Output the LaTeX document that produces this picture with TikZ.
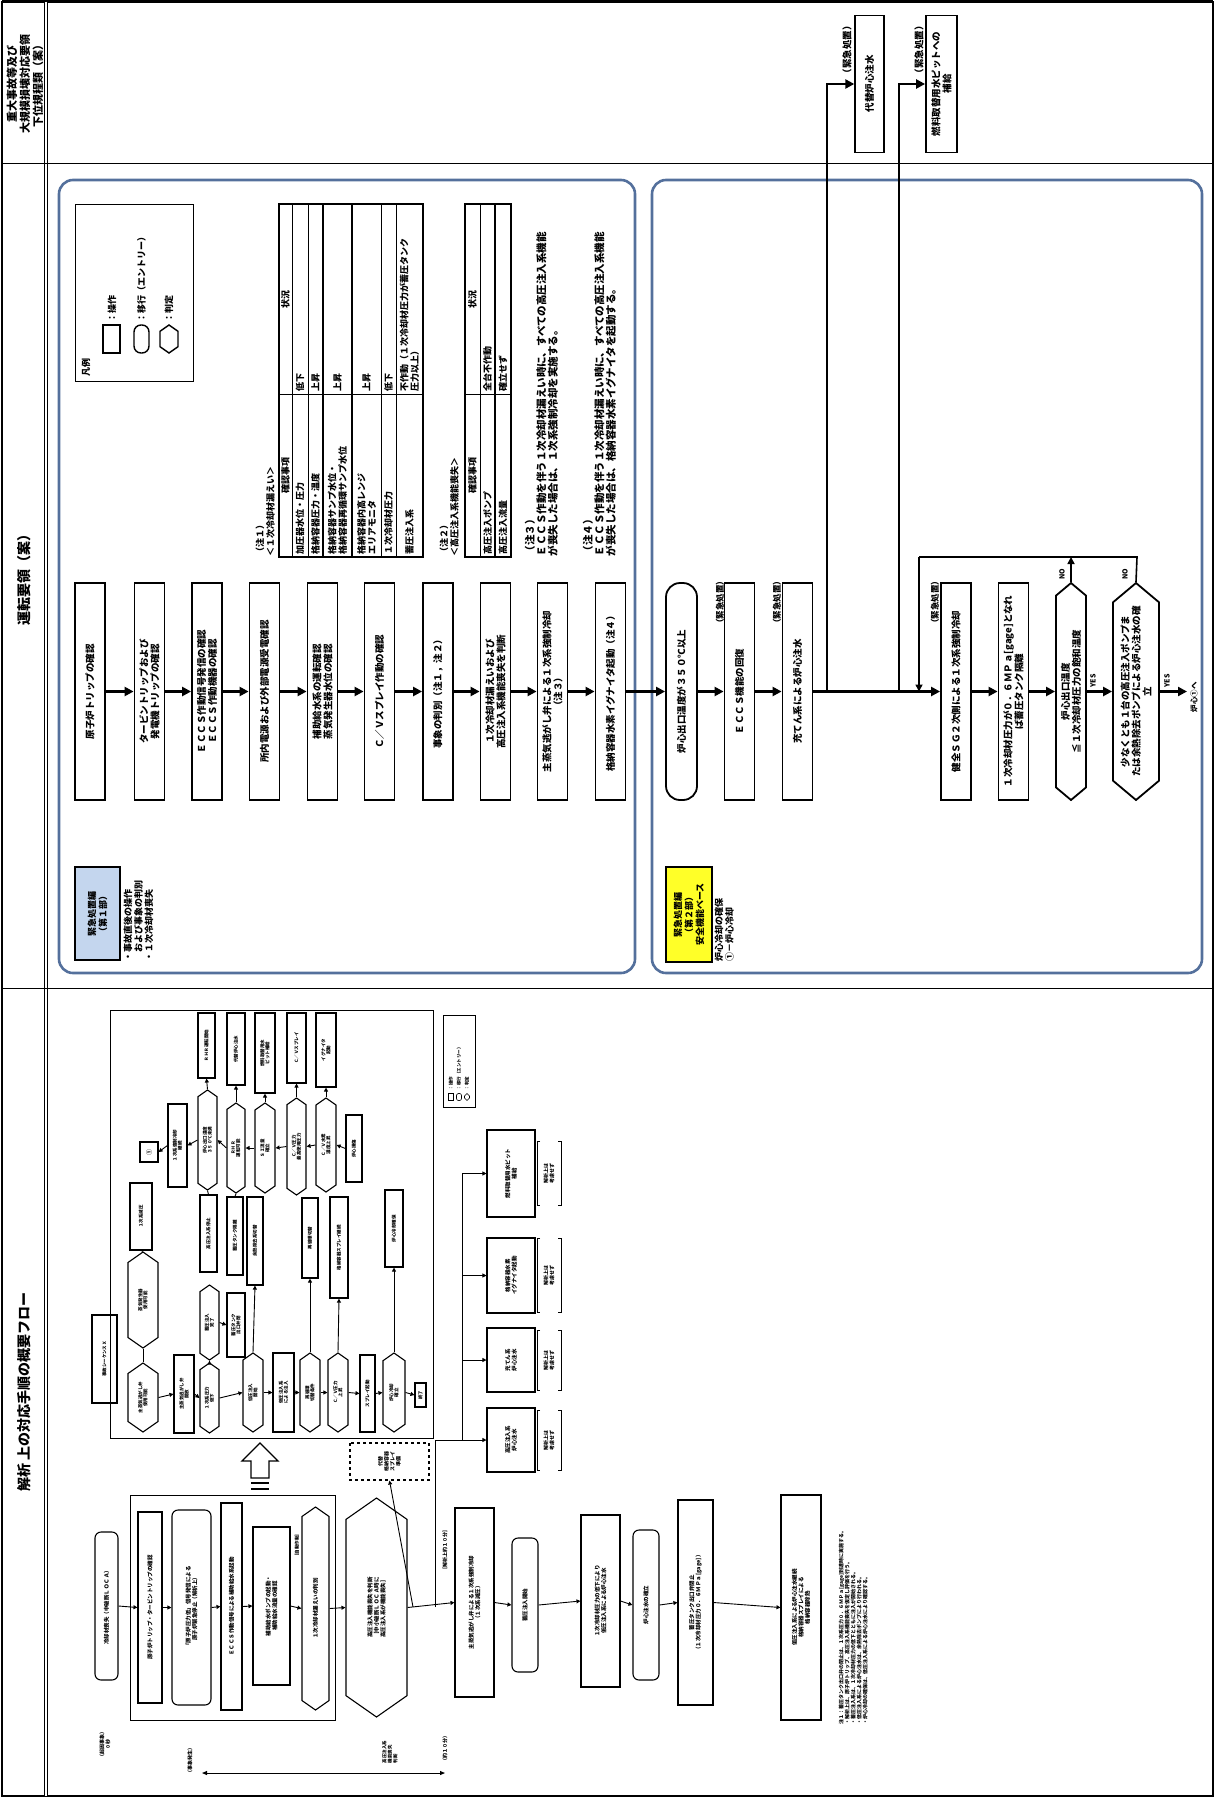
\documentclass[tikz,border=0pt]{standalone}
\usepackage{fontspec}
\setmainfont{Noto Sans CJK JP}
\usepackage{tikz}
\usetikzlibrary{arrows.meta,shapes.symbols}

\definecolor{frameblue}{RGB}{84,112,156}
\definecolor{partblue}{RGB}{196,214,238}
\definecolor{partyellow}{RGB}{255,255,40}

\begin{document}
\begin{tikzpicture}[x=1pt,y=-1pt,
    txt/.style={rotate=90,inner sep=0.5pt,align=left,font=\fontsize{9}{10.5}\selectfont\bfseries},
    op/.style={draw,line width=1.8pt,rotate=90,minimum width=217pt,minimum height=30pt,inner sep=1pt,align=center,font=\fontsize{9.5}{11}\selectfont\bfseries},
    entry/.style={op,rounded corners=14pt},
    judge/.style={op,signal,signal to=east and west,signal pointer angle=100},
    flow/.style={line width=2.4pt,-{Triangle[length=9pt,width=9pt]}},
    loopline/.style={line width=1.6pt},
    blueframe/.style={draw=frameblue,line width=2.6pt,rounded corners=14pt},
    sop/.style={draw,line width=1.1pt,rotate=90,inner sep=0.5pt,align=center,font=\fontsize{4.5}{5}\selectfont\bfseries},
    sentry/.style={sop,rounded corners=6pt},
    sjudge/.style={sop,signal,signal to=east and west,signal pointer angle=110},
    sflow/.style={line width=0.9pt,-{Triangle[length=4pt,width=4pt]}},
    sline/.style={line width=0.9pt},
  ]
  \useasboundingbox (0,0) rectangle (1215,1798);

  % frame and header column
  \draw[line width=1.6pt] (2,2) rectangle (1213,1796);
  \draw[line width=3pt] (2,2) -- (1213,2);
  \draw[double,double distance=1.6pt,line width=0.8pt] (46,2) -- (46,1796);
  \draw[line width=1pt] (2,164) -- (1213,164);
  \draw[line width=1pt] (2,988) -- (1213,988);
  \node[txt,align=center,font=\fontsize{11}{13}\selectfont\bfseries] (hdrA) at (25,84) {重大事故等及び\\大規模損壊対応要領\\下位規程類（案）};
  \node[txt,font=\fontsize{14}{16}\selectfont\bfseries] (hdrB) at (24,576) {運転要領（案）};
  \node[txt,font=\fontsize{14}{16}\selectfont\bfseries] (hdrC) at (24,1392) {解析 上の対応手順の概要フロー};

  % top column
  \node[op,minimum width=137pt,minimum height=29pt,line width=1.4pt] (altinj) at (869.5,84) {代替炉心注水};
  \node[op,minimum width=137pt,minimum height=31pt] (rwspfill) at (941.5,84) {燃料取替用水ピットへの\\補給};
  \node[txt,font=\fontsize{9.5}{11}\selectfont\bfseries] (altlbl) at (847,50) {（緊急処置）};
  \node[txt,font=\fontsize{9.5}{11}\selectfont\bfseries] (rwsplbl) at (919,50) {（緊急処置）};

  % first part
  \draw[blueframe] (59,180) rectangle (635,973);
  \draw[line width=0.8pt] (75,204) rectangle (193,381);
  \node[txt] (lgd) at (86,367) {凡例};
  \node[draw,line width=1.4pt,rotate=90,minimum width=28pt,minimum height=17pt,inner sep=0pt] (lgdop) at (111.5,339) {};
  \node[draw,line width=1.4pt,rotate=90,minimum width=28pt,minimum height=15pt,inner sep=0pt,rounded corners=7pt] (lgdentry) at (141.5,339) {};
  \node[draw,line width=1.4pt,rotate=90,minimum width=28pt,minimum height=18pt,inner sep=0pt,signal,signal to=east and west,signal pointer angle=110] (lgdjudge) at (169,339) {};
  \node[txt,anchor=west] (lgdopt) at (112,323) {：操作};
  \node[txt,anchor=west] (lgdentryt) at (141.5,323) {：移行（エントリー）};
  \node[txt,anchor=west] (lgdjudget) at (169,323) {：判定};

  % note 1 table
  \node[txt,anchor=north west] (n1ttl) at (255,557) {（注１）\\＜１次冷却材漏えい＞};
  \draw[line width=1.4pt] (279,204) rectangle (423,557);
  \foreach \r in {292,308,381,396} \draw[line width=0.8pt] (\r,204) -- (\r,557);
  \foreach \r in {323,352} \draw[line width=1.4pt] (\r,204) -- (\r,557);
  \draw[line width=0.8pt] (279,394) -- (423,394);
  \node[txt] (t1h1) at (285.5,475) {確認事項};
  \node[txt] (t1h2) at (285.5,299) {状況};
  \node[txt,anchor=west] (t1a1) at (300,555) {加圧器水位・圧力};
  \node[txt,anchor=west] (t1b1) at (300,392) {低下};
  \node[txt,anchor=west] (t1a2) at (315.5,555) {格納容器圧力・温度};
  \node[txt,anchor=west] (t1b2) at (315.5,392) {上昇};
  \node[txt,anchor=west] (t1a3) at (337.5,555) {格納容器サンプ水位・\\格納容器再循環サンプ水位};
  \node[txt,anchor=west] (t1b3) at (337.5,392) {上昇};
  \node[txt,anchor=west] (t1a4) at (366.5,555) {格納容器内高レンジ\\エリアモニタ};
  \node[txt,anchor=west] (t1b4) at (366.5,392) {上昇};
  \node[txt,anchor=west] (t1a5) at (388.5,555) {１次冷却材圧力};
  \node[txt,anchor=west] (t1b5) at (388.5,392) {低下};
  \node[txt,anchor=west] (t1a6) at (409.5,555) {蓄圧注入系};
  \node[txt,anchor=west] (t1b6) at (409.5,392) {不作動（１次冷却材圧力が蓄圧タンク\\圧力以上）};

  % note 2 table
  \node[txt,anchor=north west] (n2ttl) at (439,557) {（注２）\\＜高圧注入系機能喪失＞};
  \draw[line width=1.4pt] (465,204) rectangle (511,557);
  \draw[line width=0.8pt] (480,204) -- (480,557);
  \draw[line width=1.4pt] (495,204) -- (495,557);
  \draw[line width=0.8pt] (465,394) -- (511,394);
  \node[txt] (t2h1) at (472.5,475) {確認事項};
  \node[txt] (t2h2) at (472.5,299) {状況};
  \node[txt,anchor=west] (t2a1) at (487.5,555) {高圧注入ポンプ};
  \node[txt,anchor=west] (t2b1) at (487.5,392) {全台不作動};
  \node[txt,anchor=west] (t2a2) at (503,555) {高圧注入流量};
  \node[txt,anchor=west] (t2b2) at (503,392) {確立せず};

  \node[txt,anchor=north west,font=\fontsize{10.5}{11.5}\selectfont\bfseries] (n3) at (524,557) {（注３）\\ＥＣＣＳ作動を伴う１次冷却材漏えい時に、すべての高圧注入系機能\\が喪失した場合は、１次系強制冷却を実施する。};
  \node[txt,anchor=north west,font=\fontsize{10.5}{11.5}\selectfont\bfseries] (n4) at (582,557) {（注４）\\ＥＣＣＳ作動を伴う１次冷却材漏えい時に、すべての高圧注入系機能\\が喪失した場合は、格納容器水素イグナイタを起動する。};

  \node[op] (trip) at (90,691.5) {原子炉トリップの確認};
  \node[op] (tgtrip) at (149.5,691.5) {タービントリップおよび\\発電機トリップの確認};
  \node[op] (eccs) at (207,691.5) {ＥＣＣＳ作動信号発信の確認\\ＥＣＣＳ作動機器の確認};
  \node[op] (power) at (264.5,691.5) {所内電源および外部電源受電確認};
  \node[op] (afw) at (322.5,691.5) {補助給水系の運転確認\\蒸気発生器水位の確認};
  \node[op] (cvsp) at (379.5,691.5) {Ｃ／Ｖスプレイ作動の確認};
  \node[op] (event) at (438,691.5) {事象の判別（注１，注２）};
  \node[op] (hilost) at (495.5,691.5) {１次冷却材漏えいおよび\\高圧注入系機能喪失を判断};
  \node[op] (fcool) at (552.5,691.5) {主蒸気逃がし弁による１次系強制冷却\\（注３）};
  \node[op] (ignit) at (610.5,691.5) {格納容器水素イグナイタ起動（注４）};
  \draw[flow] (trip.south) -- (tgtrip.north);
  \draw[flow] (tgtrip.south) -- (eccs.north);
  \draw[flow] (eccs.south) -- (power.north);
  \draw[flow] (power.south) -- (afw.north);
  \draw[flow] (afw.south) -- (cvsp.north);
  \draw[flow] (cvsp.south) -- (event.north);
  \draw[flow] (event.south) -- (hilost.north);
  \draw[flow] (hilost.south) -- (fcool.north);
  \draw[flow] (fcool.south) -- (ignit.north);

  \node[draw,line width=1.2pt,fill=partblue,rotate=90,minimum width=93pt,minimum height=45pt,align=center,font=\fontsize{9}{11}\selectfont\bfseries] (part1) at (97.5,913.5) {緊急処置編\\（第１部）};
  \node[txt,anchor=north west] (part1t) at (123,962) {・事故直後の操作\\　および事象の判別\\・１次冷却材喪失};

  % second part
  \draw[blueframe] (652,180) rectangle (1202,973);
  \node[entry,minimum height=31pt] (coreexit) at (681.5,691.5) {炉心出口温度が３５０℃以上};
  \node[op] (eccsrec) at (739.5,691.5) {ＥＣＣＳ機能の回復};
  \node[op] (chginj) at (797.5,691.5) {充てん系による炉心注水};
  \node[op] (sgcool) at (956,691.5) {健全ＳＧ２次側による１次系強制冷却};
  \node[op] (accisol) at (1013.5,691.5) {１次冷却材圧力が０．６ＭＰａ[gage]となれ\\ば蓄圧タンク隔離};
  \node[judge] (tsat) at (1071,691.5) {炉心出口温度\\≦１次冷却材圧力の飽和温度};
  \node[judge,minimum height=46pt] (hpinj) at (1136,691.5) {少なくとも１台の高圧注入ポンプま\\たは余熱除去ポンプによる炉心注水の確\\立};
  \node[txt,font=\fontsize{8.5}{10}\selectfont\bfseries] (eccslbl) at (720,602) {（緊急処置）};
  \node[txt,font=\fontsize{8.5}{10}\selectfont\bfseries] (chglbl) at (777,602) {（緊急処置）};
  \node[txt,font=\fontsize{8.5}{10}\selectfont\bfseries] (sglbl) at (935,602) {（緊急処置）};
  \node[txt,font=\fontsize{7}{8}\selectfont\bfseries] (tsatyes) at (1093,681) {YES};
  \node[txt,font=\fontsize{7}{8}\selectfont\bfseries] (hpyes) at (1167,681) {YES};
  \node[txt,font=\fontsize{7}{8}\selectfont\bfseries] (tsatno) at (1062,574) {NO};
  \node[txt,font=\fontsize{7}{8}\selectfont\bfseries] (hpno) at (1125,574) {NO};
  \node[txt,font=\fontsize{7.5}{9}\selectfont\bfseries,anchor=west] (tocore) at (1194,713) {炉心①へ};

  \coordinate (brA) at (827,691.5);
  \coordinate (brB) at (899,691.5);
  \coordinate (loopin) at (919,691.5);
  \coordinate (loopL) at (919,557);
  \coordinate (loopR) at (1137,557);
  \coordinate (outend) at (1187,691.5);
  \draw[flow] (ignit.south) -- (coreexit.north);
  \draw[flow] (coreexit.south) -- (eccsrec.north);
  \draw[flow] (eccsrec.south) -- (chginj.north);
  \draw[flow] (chginj.south) -- (sgcool.north);
  \draw[flow] (brA) |- (altinj.north);
  \draw[flow] (brB) |- (rwspfill.north);
  \draw[flow] (sgcool.south) -- (accisol.north);
  \draw[flow] (accisol.south) -- (tsat.north);
  \draw[flow] (tsat.south) -- (hpinj.north);
  \draw[flow] (hpinj.south) -- (outend);
  \draw[loopline] (hpinj.east) -- (loopR) -- (loopL);
  \draw[loopline,-{Triangle[length=7pt,width=7pt]}] (loopL) -- (loopin);
  \draw[loopline,-{Triangle[length=7pt,width=7pt]}] (tsat.east) -- (tsat.east |- loopL);

  \node[draw,line width=1.2pt,fill=partyellow,rotate=90,minimum width=95pt,minimum height=46pt,align=center,font=\fontsize{9}{11}\selectfont\bfseries] (part2) at (689,914.5) {緊急処置編\\（第２部）\\安全機能ベース};
  \node[txt,anchor=north west] (part2t) at (714,962) {炉心冷却の確保\\①－炉心冷却};

  % analysis flow: inset
  \draw[line width=1pt] (110,1010) rectangle (433,1438);
  \node[sop,minimum width=88pt,minimum height=25pt] (inseq) at (104.5,1359) {事故シーケンスＸ};
  \node[sop,minimum width=20pt,minimum height=18pt,font=\fontsize{6}{7}\selectfont\bfseries] (goto1) at (149,1152) {①};
  \node[sop,minimum width=83pt,minimum height=19pt] (a1) at (177.5,1145.5) {１次系強制冷却\\継続};
  \node[sjudge,minimum width=100pt,minimum height=19pt] (c1h) at (207.5,1140) {炉心出口温度\\３５０℃未満};
  \node[sjudge,minimum width=90pt,minimum height=18pt] (c2h) at (236,1148) {ＲＨＲ\\運転可能};
  \node[sjudge,minimum width=90pt,minimum height=20pt] (c3h) at (265,1148) {ＳＩ流量\\確立};
  \node[sjudge,minimum width=97pt,minimum height=19pt] (c4h) at (296.5,1146.5) {Ｃ／Ｖ圧力\\最高使用圧力};
  \node[sjudge,minimum width=94pt,minimum height=20pt] (c5h) at (326,1145) {Ｃ／Ｖ水素\\濃度上昇};
  \node[sop,minimum width=67pt,minimum height=16pt] (a6) at (354,1148.5) {炉心損傷};
  \node[sop,minimum width=65pt,minimum height=17pt] (c1t) at (206.5,1045.5) {ＲＨＲ運転開始};
  \node[sop,minimum width=72pt,minimum height=18pt] (c2t) at (236,1049) {代替炉心注水};
  \node[sop,minimum width=80pt,minimum height=20pt] (c3t) at (265,1053) {燃料取替用水\\ピット補給};
  \node[sop,minimum width=70pt,minimum height=19pt] (c4t) at (296.5,1048) {Ｃ／Ｖスプレイ};
  \node[sop,minimum width=74pt,minimum height=20pt] (c5t) at (326,1050) {イグナイタ\\起動};
  \draw[sflow] (a1.north) -- (goto1.south);
  \draw[sflow] (c1h.north) -- (a1.south);
  \draw[sflow] (c2h.north) -- (c1h.south);
  \draw[sflow] (c3h.north) -- (c2h.south);
  \draw[sflow] (c4h.north) -- (c3h.south);
  \draw[sflow] (c5h.north) -- (c4h.south);
  \draw[sflow] (a6.north) -- (c5h.south);
  \draw[sflow] (c1h.east) -- (c1t.west);
  \draw[sflow] (c2h.east) -- (c2t.west);
  \draw[sflow] (c3h.east) -- (c3t.west);
  \draw[sflow] (c4h.east) -- (c4t.west);
  \draw[sflow] (c5h.east) -- (c5t.west);

  \node[sop,minimum width=77pt,minimum height=17pt] (b1) at (208.5,1233.5) {高圧注入系停止};
  \node[sop,minimum width=78pt,minimum height=16pt] (b2) at (235,1236) {蓄圧タンク隔離};
  \node[sop,minimum width=88pt,minimum height=16pt] (b3) at (255,1241) {余熱除去系切替};
  \node[sop,minimum width=80pt,minimum height=16pt] (b4) at (310,1238) {再循環切替};
  \node[sop,minimum width=101pt,minimum height=18pt] (b5) at (339,1247.5) {格納容器スプレイ継続};
  \node[sop,minimum width=77pt,minimum height=18pt] (b6) at (394,1228.5) {炉心冷却確保};
  \node[sop,minimum width=67pt,minimum height=22pt] (l1) at (141,1216.5) {１次系減圧};
  \node[sjudge,minimum width=96pt,minimum height=30pt] (l2) at (143,1300) {蒸気発生器\\使用可能};
  \node[sjudge,minimum width=69pt,minimum height=30pt] (l3) at (143,1397.5) {主蒸気逃がし弁\\使用可能};
  \node[sjudge,minimum width=75pt,minimum height=19pt] (m1) at (209.5,1322.5) {蓄圧注入\\完了};
  \node[sop,minimum width=64pt,minimum height=18pt] (m2) at (236,1325) {蓄圧タンク\\出口弁閉};
  \node[sop,minimum width=78pt,minimum height=20pt] (r1) at (184,1394) {主蒸気逃がし弁\\開放};
  \node[sjudge,minimum width=70pt,minimum height=19pt] (r2) at (209.5,1398) {１次系圧力\\低下};
  \node[sjudge,minimum width=79pt,minimum height=20pt] (r3) at (253,1392.5) {低圧注入\\開始};
  \node[sop,minimum width=79pt,minimum height=21pt] (r4) at (283.5,1392.5) {低圧注入系\\による注入};
  \node[sjudge,minimum width=79pt,minimum height=20pt] (r5) at (310,1392.5) {再循環\\切替条件};
  \node[sjudge,minimum width=79pt,minimum height=20pt] (r6) at (338,1392.5) {Ｃ／Ｖ圧力\\上昇};
  \node[sop,minimum width=77pt,minimum height=15pt] (r7) at (367.5,1393.5) {スプレイ起動};
  \node[sjudge,minimum width=79pt,minimum height=22pt] (r8) at (394,1392.5) {炉心冷却\\確立};
  \node[sop,minimum width=24pt,minimum height=11pt] (r9) at (420.5,1395) {終了};
  \draw[sline] (l1.west) -- (l2.east);
  \draw[sline] (l2.west) -- (l3.east);
  \draw[sflow] (l3.south) -- (r1.north);
  \draw[sflow] (r1.south) -- (r2.north);
  \draw[sflow] (r2.south) -- (r3.north);
  \draw[sflow] (r3.south) -- (r4.north);
  \draw[sflow] (r4.south) -- (r5.north);
  \draw[sflow] (r5.south) -- (r6.north);
  \draw[sflow] (r6.south) -- (r7.north);
  \draw[sflow] (r7.south) -- (r8.north);
  \draw[sflow] (r8.south) -- (r9.north);
  \draw[sflow] (r2.east) -- (m1.west);
  \draw[sflow] (m1.south) -- (m2.north);
  \draw[sflow] (r3.east) -- (b3.west);
  \draw[sflow] (r5.east) -- (b4.west);
  \draw[sflow] (r6.east) -- (b5.west);
  \draw[sflow] (r8.east) -- (b6.west);
  \draw[sline] (c1h.west) -- (b1.east);
  \draw[sline] (c2h.west) -- (b2.east);

  % hollow arrow up to the inset
  \draw[line width=1.3pt,fill=white] (260,1443) -- (278,1461) -- (269,1461) -- (269,1478) -- (251,1478) -- (251,1461) -- (242,1461) -- cycle;
  \draw[line width=2pt] (251,1483) -- (269,1483);
  \draw[line width=2pt] (251,1489) -- (269,1489);

  % analysis flow: main line
  \node[sentry,minimum width=148pt,minimum height=23pt,font=\fontsize{5.5}{6.5}\selectfont\bfseries] (ev) at (106.5,1606) {冷却材喪失（中破断ＬＯＣＡ）};
  \node[txt,font=\fontsize{5}{6}\selectfont\bfseries,align=center] (evlbl) at (105,1744) {（起因事象）\\0 秒};
  \draw[line width=1pt] (130,1495) rectangle (335,1720);
  \node[sop,minimum width=191pt,minimum height=24pt,font=\fontsize{5.5}{6.5}\selectfont\bfseries] (g1) at (150,1607.5) {原子炉トリップ・タービントリップの確認};
  \node[sentry,minimum width=195pt,minimum height=39pt,font=\fontsize{5.5}{6.5}\selectfont\bfseries] (g2) at (191.5,1607.5) {「原子炉圧力低」信号発信による\\原子炉緊急停止（解析上）};
  \node[sop,minimum width=207pt,minimum height=21pt,font=\fontsize{5.5}{6.5}\selectfont\bfseries] (g3) at (231.5,1606.5) {ＥＣＣＳ作動信号による補助給水系起動};
  \node[sop,minimum width=158pt,minimum height=37pt,font=\fontsize{5.5}{6.5}\selectfont\bfseries] (g4) at (271.5,1606) {補助給水ポンプの起動・\\補助給水流量の確認};
  \node[sjudge,minimum width=203pt,minimum height=27pt,font=\fontsize{5.5}{6.5}\selectfont\bfseries] (g5) at (315.5,1608.5) {１次冷却材漏えいの判別};
  \node[txt,font=\fontsize{4.5}{5}\selectfont\bfseries] (g5lbl) at (297,1545) {［自動作動］};
  \node[sjudge,minimum width=219pt,minimum height=61pt,font=\fontsize{5.5}{6.5}\selectfont\bfseries] (hpfail) at (376.5,1607.5) {高圧注入機能喪失を判断\\［中小破断ＬＯＣＡ時に\\高圧注入系が機能喪失］};
  \node[txt,font=\fontsize{4.5}{5.5}\selectfont\bfseries,align=left] (hplbl) at (390,1752) {高圧注入系\\機能喪失\\判断};
  \node[sop,minimum width=37pt,minimum height=79pt,dashed,font=\fontsize{5}{6}\selectfont\bfseries] (dash) at (389.5,1461.5) {代替\\格納容器\\スプレイ\\準備};
  \node[sop,minimum width=189pt,minimum height=39pt,font=\fontsize{5.5}{6.5}\selectfont\bfseries] (m4) at (474.5,1602.5) {主蒸気逃がし弁による１次系強制冷却\\（１次系減圧）};
  \node[txt,font=\fontsize{5}{6}\selectfont\bfseries] (m4lbl) at (445,1550) {［解析上約１０分］};
  \node[sentry,minimum width=134pt,minimum height=26pt,font=\fontsize{5.5}{6.5}\selectfont\bfseries] (m5) at (525,1605) {蓄圧注入開始};
  \node[sop,minimum width=172pt,minimum height=39pt,font=\fontsize{5.5}{6.5}\selectfont\bfseries] (m6) at (600.5,1601) {１次冷却材圧力の低下により\\低圧注入系による炉心注水};
  \node[sentry,minimum width=150pt,minimum height=26pt,font=\fontsize{5.5}{6.5}\selectfont\bfseries] (m7) at (646,1605) {炉心注水の確立};
  \node[sop,minimum width=205pt,minimum height=35pt,font=\fontsize{5.5}{6.5}\selectfont\bfseries] (m8) at (695.5,1602.5) {蓄圧タンク出口弁閉止\\（１次冷却材圧力０．６ＭＰａ[gage]）};
  \node[sop,minimum width=225pt,minimum height=40pt,font=\fontsize{5.5}{6.5}\selectfont\bfseries] (m9) at (801,1607.5) {低圧注入系による炉心注水継続\\格納容器スプレイによる\\格納容器除熱};
  \node[txt,anchor=north west,font=\fontsize{5}{6}\selectfont\bfseries] (notes) at (838,1725) {注１：蓄圧タンク出口弁の閉止は、１次系圧力０．６ＭＰａ[gage]到達時に実施する。\\・解析上は、原子炉トリップ、高圧注入系機能喪失を仮定し評価を行う。\\・蓄圧注入系は、１次冷却材圧力の低下とともに注入が開始される。\\・低圧注入系による炉心注水は、余熱除去ポンプにより行われる。\\・炉心冷却の確保は、低圧注入系による炉心注水により確認する。};

  \draw[line width=0.9pt,<->,>={Triangle[length=5pt,width=4pt]}] (202,1773) -- (445,1773);
  \node[txt,font=\fontsize{5}{6}\selectfont\bfseries] (t0) at (190,1760) {（事象発生）};
  \node[txt,font=\fontsize{5}{6}\selectfont\bfseries] (t10) at (445,1748) {（約１０分）};

  \draw[sflow] (ev.south) -- (g1.north);
  \draw[sflow] (g1.south) -- (g2.north);
  \draw[sflow] (g2.south) -- (g3.north);
  \draw[sflow] (g3.south) -- (g4.north);
  \draw[sflow] (g4.south) -- (g5.north);
  \draw[sflow] (g5.south) -- (hpfail.north);
  \draw[sflow] (hpfail.south) -- (m4.north);
  \draw[sflow] (m4.south) -- (m5.north);
  \draw[sflow] (m5.south) -- (m6.north);
  \draw[sflow] (m6.south) -- (m7.north);
  \draw[sflow] (m7.south) -- (m8.north);
  \draw[sflow] (m8.south) -- (m9.north);

  % outside-inset responses
  \draw[line width=1pt] (443,1015) rectangle (475,1107);
  \node[draw,line width=0.6pt,rotate=90,minimum width=7pt,minimum height=5pt,inner sep=0pt] (lg3op) at (451,1097) {};
  \node[draw,line width=0.6pt,rotate=90,minimum width=7pt,minimum height=5pt,inner sep=0pt,rounded corners=2pt] (lg3entry) at (459,1097) {};
  \node[draw,line width=0.6pt,rotate=90,minimum width=7pt,minimum height=5pt,inner sep=0pt,signal,signal to=east and west] (lg3judge) at (467,1097) {};
  \node[txt,font=\fontsize{4.5}{5}\selectfont\bfseries,anchor=west] (lg3t1) at (451,1091) {：操作};
  \node[txt,font=\fontsize{4.5}{5}\selectfont\bfseries,anchor=west] (lg3t2) at (459,1091) {：移行（エントリー）};
  \node[txt,font=\fontsize{4.5}{5}\selectfont\bfseries,anchor=west] (lg3t3) at (467,1091) {：判定};
  \node[sop,minimum width=87pt,minimum height=48pt,font=\fontsize{5.5}{6.5}\selectfont\bfseries] (rs1) at (511,1173.5) {燃料取替用水ピット\\補給};
  \node[sop,minimum width=75pt,minimum height=48pt,font=\fontsize{5.5}{6.5}\selectfont\bfseries] (rs2) at (511,1275.5) {格納容器水素\\イグナイタ起動};
  \node[sop,minimum width=64pt,minimum height=48pt,font=\fontsize{5.5}{6.5}\selectfont\bfseries] (rs3) at (511,1360) {充てん系\\炉心注水};
  \node[sop,minimum width=64pt,minimum height=48pt,font=\fontsize{5.5}{6.5}\selectfont\bfseries] (rs4) at (511,1440) {高圧注入系\\炉心注水};
  \node[txt,font=\fontsize{5}{6}\selectfont\bfseries,align=center] (rs1b) at (549,1173.5) {解析上は\\考慮せず};
  \node[txt,font=\fontsize{5}{6}\selectfont\bfseries,align=center] (rs2b) at (549,1275.5) {解析上は\\考慮せず};
  \node[txt,font=\fontsize{5}{6}\selectfont\bfseries,align=center] (rs3b) at (549,1360) {解析上は\\考慮せず};
  \node[txt,font=\fontsize{5}{6}\selectfont\bfseries,align=center] (rs4b) at (549,1440) {解析上は\\考慮せず};
  \foreach \yc/\hh in {1173.5/32,1275.5/37,1360/30,1440/30}
    \draw[line width=1pt] (540,\yc-\hh) -- (537,\yc-\hh) -- (537,\yc+\hh) -- (540,\yc+\hh)
      (558,\yc-\hh) -- (561,\yc-\hh) -- (561,\yc+\hh) -- (558,\yc+\hh);

  \coordinate (busT) at (462,1173.5);
  \coordinate (busB) at (462,1440);
  \coordinate (riseA) at (413,1607);
  \coordinate (riseB) at (435,1607);
  \draw[sline] (busT) -- (busB);
  \draw[sflow] (busT) -- (rs1.north);
  \draw[sflow] (462,1275.5) -- (rs2.north);
  \draw[sflow] (462,1360) -- (rs3.north);
  \draw[sflow] (riseB) |- (rs4.north);
  \draw[sflow] (riseA) -- (dash.west);
\end{tikzpicture}
\end{document}
